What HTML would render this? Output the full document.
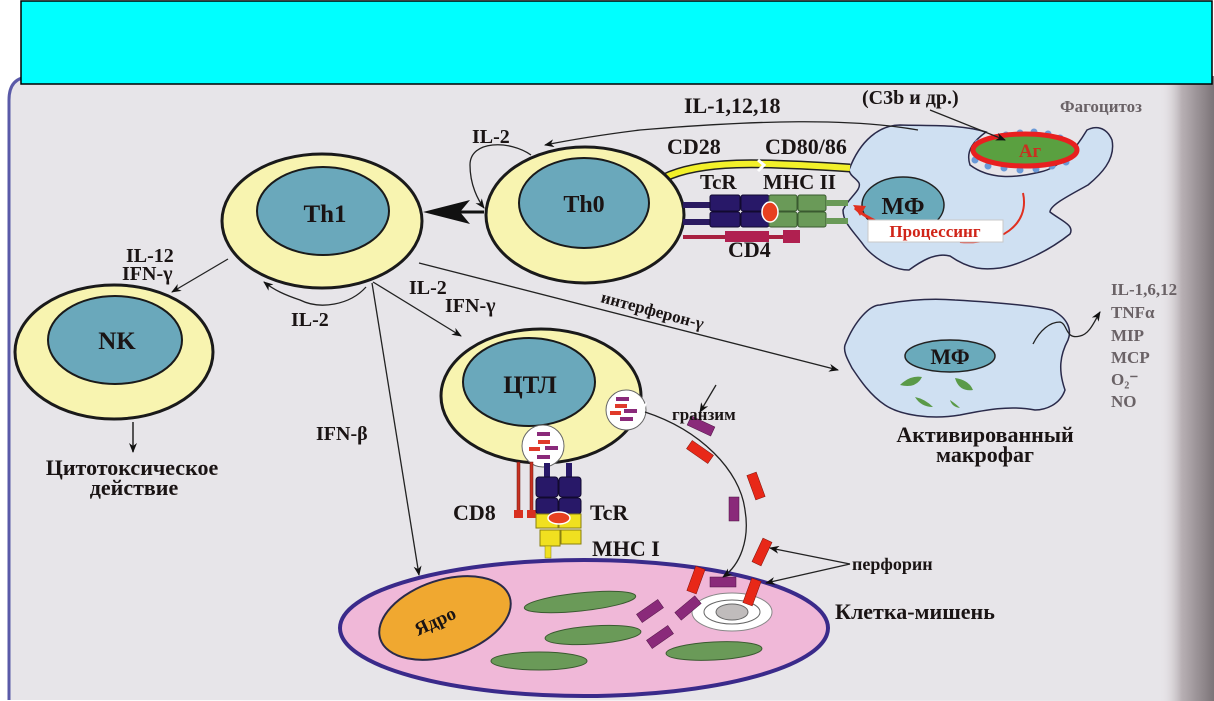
<!DOCTYPE html>
<html><head><meta charset="utf-8"><style>
html,body{margin:0;padding:0;background:#fff;width:1214px;height:701px;overflow:hidden}
svg{display:block}
text{font-family:"Liberation Serif",serif;font-weight:bold;fill:#1a1414}
</style></head><body>
<svg width="1214" height="701" viewBox="0 0 1214 701" xmlns="http://www.w3.org/2000/svg">
<defs>
<linearGradient id="rs" x1="0" x2="1" y1="0" y2="0">
<stop offset="0" stop-color="#e6e3e6" stop-opacity="0"/>
<stop offset="0.4" stop-color="#b8b0b4"/>
<stop offset="1" stop-color="#7c7478"/>
</linearGradient>
<marker id="a" markerWidth="10" markerHeight="8" refX="9" refY="4" orient="auto" markerUnits="userSpaceOnUse"><path d="M0,0 L10,4 L0,8 L3,4 z" fill="#111"/></marker>
</defs>
<path d="M8,700 L8,100 Q8,76 30,76 L1214,76 L1214,701 Z" fill="#e7e5e9"/>
<path d="M9,700 L9,100 Q9,77 30,77" fill="none" stroke="#5a5aa8" stroke-width="3"/>
<rect x="1160" y="76" width="54" height="625" fill="url(#rs)"/>
<rect x="21" y="1" width="1191" height="83" fill="#00ffff" stroke="#000" stroke-width="1.5"/>

<path d="M849,170 C860,140 880,125 900,125 C930,126 960,124 986,132 C975,140 965,150 970,165 C990,180 1015,178 1040,172 C1060,168 1075,150 1087,130 C1095,126 1106,126 1112,140 C1116,160 1100,175 1088,185 C1070,195 1050,205 1050,212 C1060,220 1075,225 1070,234 C1050,250 1020,265 1000,268 C985,270 970,270 950,256 C935,252 920,262 909,270 C890,270 870,255 862,243 C852,230 843,222 843,210 C848,198 862,190 859,183 C856,178 850,176 849,170 Z" fill="#cfe0f2" stroke="#2a2a4a" stroke-width="1.5"/>
<g fill="#6a9ad8">
<circle cx="978" cy="143" r="3.5"/><circle cx="992" cy="139" r="3.5"/><circle cx="1006" cy="135" r="3.5"/><circle cx="1020" cy="133" r="3.5"/><circle cx="1034" cy="132" r="3.5"/><circle cx="1048" cy="134" r="3.5"/><circle cx="1060" cy="138" r="3.5"/><circle cx="1074" cy="148" r="3.5"/><circle cx="975" cy="160" r="3.5"/><circle cx="988" cy="166" r="3.5"/><circle cx="1004" cy="168" r="3.5"/><circle cx="1020" cy="170" r="3.5"/><circle cx="1036" cy="169" r="3.5"/><circle cx="1052" cy="166" r="3.5"/><circle cx="1066" cy="162" r="3.5"/>
</g>
<ellipse cx="1025" cy="150" rx="52" ry="16" fill="#5aa040" stroke="#e82020" stroke-width="5"/>
<text x="1030" y="157" font-size="19" text-anchor="middle" style="fill:#c83020">Аг</text>
<ellipse cx="903" cy="205" rx="41" ry="28" fill="#6aaabb" stroke="#222" stroke-width="1.5"/>
<text x="903" y="214" font-size="24" text-anchor="middle">МФ</text>
<path d="M1023,193 C1030,225 1000,245 960,242" fill="none" stroke="#e03020" stroke-width="2"/>
<path d="M905,235 C885,225 865,218 855,208" fill="none" stroke="#e03020" stroke-width="3"/>
<path d="M853,205 L866,206 L860,216 z" fill="#e03020"/>
<rect x="868" y="220" width="135" height="22" fill="#fff" stroke="#c8c8c8"/>
<text x="935" y="237" font-size="17" text-anchor="middle" style="fill:#d02418">Процессинг</text>

<path d="M664,178 C700,160 760,162 850,168" fill="none" stroke="#222" stroke-width="9"/>
<path d="M664,178 C700,160 760,162 850,168" fill="none" stroke="#f2f02a" stroke-width="6"/>
<path d="M758,160 l6,5 -6,6" fill="none" stroke="#fff" stroke-width="3"/>

<ellipse cx="585" cy="215" rx="99" ry="68" fill="#f8f4b0" stroke="#1a1a1a" stroke-width="3"/>
<ellipse cx="584" cy="203" rx="65" ry="45" fill="#6aa8bb" stroke="#1a1a1a" stroke-width="2"/>
<text x="584" y="212" font-size="24" text-anchor="middle">Th0</text>
<rect x="683" y="202" width="30" height="6" fill="#2a1a60"/>
<rect x="683" y="219" width="30" height="6" fill="#2a1a60"/>
<g fill="#281868" stroke="#120a30" stroke-width="1">
<rect x="710" y="195" width="30" height="16" rx="2"/><rect x="741" y="195" width="28" height="16" rx="2"/>
<rect x="710" y="212" width="30" height="15" rx="2"/><rect x="741" y="212" width="28" height="15" rx="2"/>
</g>
<g fill="#6a9a58" stroke="#3a5a30" stroke-width="1">
<rect x="769" y="195" width="28" height="16" rx="2"/><rect x="798" y="195" width="28" height="16" rx="2"/>
<rect x="769" y="212" width="28" height="15" rx="2"/><rect x="798" y="212" width="28" height="15" rx="2"/>
</g>
<rect x="826" y="200" width="22" height="6" fill="#6a9a58"/><rect x="826" y="218" width="22" height="6" fill="#6a9a58"/>
<ellipse cx="770" cy="212" rx="8" ry="10" fill="#e84020" stroke="#fff" stroke-width="1.5"/>
<rect x="683" y="235" width="45" height="4" fill="#a82040"/>
<rect x="725" y="231" width="44" height="11" fill="#b02050"/>
<rect x="769" y="235" width="14" height="4" fill="#a82040"/>
<rect x="783" y="230" width="17" height="13" fill="#b02050"/>

<ellipse cx="322" cy="221" rx="100" ry="67" fill="#f8f4b0" stroke="#1a1a1a" stroke-width="3"/>
<ellipse cx="323" cy="211" rx="66" ry="44" fill="#6aa8bb" stroke="#1a1a1a" stroke-width="2"/>
<text x="325" y="222" font-size="25" text-anchor="middle">Th1</text>
<line x1="484" y1="212" x2="450" y2="212" stroke="#111" stroke-width="3"/>
<path d="M423,212 L470,200 L460,212 L470,224 z" fill="#111"/>
<path d="M531,155 C510,140 470,140 470,165 C470,185 478,200 484,208" fill="none" stroke="#222" stroke-width="1.3" marker-end="url(#a)"/>
<text x="472" y="143" font-size="20">IL-2</text>

<ellipse cx="114" cy="352" rx="99" ry="67" fill="#f8f4b0" stroke="#1a1a1a" stroke-width="3"/>
<ellipse cx="115" cy="340" rx="67" ry="44" fill="#6aa8bb" stroke="#1a1a1a" stroke-width="2"/>
<text x="117" y="349" font-size="25" text-anchor="middle">NK</text>
<line x1="228" y1="259" x2="172" y2="292" stroke="#222" stroke-width="1.3" marker-end="url(#a)"/>
<text x="126" y="262" font-size="20">IL-12</text>
<text x="122" y="280" font-size="20">IFN-γ</text>
<line x1="133" y1="422" x2="133" y2="452" stroke="#222" stroke-width="1.5" marker-end="url(#a)"/>
<text x="132" y="475" font-size="22" text-anchor="middle">Цитотоксическое</text>
<text x="134" y="495" font-size="22" text-anchor="middle">действие</text>

<path d="M366,287 C350,305 320,310 300,300 C285,295 274,290 264,282" fill="none" stroke="#222" stroke-width="1.3" marker-end="url(#a)"/>
<text x="291" y="326" font-size="20">IL-2</text>

<ellipse cx="541" cy="396" rx="100" ry="67" fill="#f8f4b0" stroke="#1a1a1a" stroke-width="3"/>
<ellipse cx="529" cy="382" rx="66" ry="44" fill="#6aa8bb" stroke="#1a1a1a" stroke-width="2"/>
<text x="530" y="393" font-size="25" text-anchor="middle">ЦТЛ</text>
<line x1="373" y1="282" x2="461" y2="336" stroke="#222" stroke-width="1.3" marker-end="url(#a)"/>
<text x="409" y="294" font-size="20">IL-2</text>
<text x="445" y="312" font-size="20">IFN-γ</text>
<line x1="419" y1="263" x2="838" y2="370" stroke="#222" stroke-width="1.3" marker-end="url(#a)"/>
<text x="0" y="0" font-size="17" transform="translate(600,302) rotate(15)">интерферон-γ</text>
<line x1="372" y1="283" x2="419" y2="575" stroke="#222" stroke-width="1.3" marker-end="url(#a)"/>
<text x="316" y="440" font-size="20">IFN-β</text>

<circle cx="626" cy="410" r="20" fill="#fff" stroke="#666"/>
<rect x="616" y="397" width="13" height="4" fill="#8a2a7a"/><rect x="615" y="404" width="12" height="4" fill="#e03a2a"/><rect x="610" y="411" width="11" height="4" fill="#e03a2a"/><rect x="624" y="409" width="13" height="4" fill="#8a2a7a"/><rect x="620" y="417" width="13" height="4" fill="#8a2a7a"/>
<path d="M637,410 l10,-8 -3,10 z" fill="#fff"/>
<circle cx="543" cy="446" r="21" fill="#fff" stroke="#666"/>
<rect x="537" y="432" width="13" height="4" fill="#8a2a7a"/><rect x="538" y="440" width="12" height="4" fill="#e03a2a"/><rect x="529" y="447" width="11" height="4" fill="#e03a2a"/><rect x="545" y="446" width="13" height="4" fill="#8a2a7a"/><rect x="537" y="455" width="13" height="4" fill="#8a2a7a"/>

<rect x="517" y="462" width="3" height="50" fill="#c83020" stroke="#6a1a10" stroke-width="0.5"/>
<rect x="530" y="462" width="3" height="50" fill="#c83020" stroke="#6a1a10" stroke-width="0.5"/>
<rect x="514" y="510" width="9" height="8" fill="#d83020"/><rect x="527" y="510" width="9" height="8" fill="#d83020"/>
<rect x="544" y="463" width="6" height="14" fill="#281868"/><rect x="566" y="463" width="6" height="14" fill="#281868"/>
<g fill="#281868" stroke="#120a30" stroke-width="1">
<rect x="536" y="477" width="22" height="20" rx="3"/><rect x="559" y="477" width="22" height="20" rx="3"/>
<rect x="536" y="498" width="22" height="16" rx="3"/><rect x="559" y="498" width="22" height="16" rx="3"/>
</g>
<g fill="#f0e020" stroke="#8a8010" stroke-width="1">
<rect x="536" y="514" width="22" height="14"/><rect x="559" y="514" width="22" height="14"/>
<rect x="540" y="530" width="20" height="16"/><rect x="561" y="530" width="20" height="14"/>
</g>
<rect x="545" y="546" width="6" height="12" fill="#f0e020" stroke="#8a8010" stroke-width="0.5"/>
<ellipse cx="559" cy="518" rx="11" ry="6" fill="#e84020" stroke="#fff" stroke-width="1.5"/>
<text x="453" y="520" font-size="22">CD8</text>
<text x="590" y="520" font-size="22">TcR</text>
<text x="592" y="556" font-size="22">MHC I</text>

<ellipse cx="584" cy="628" rx="244" ry="68" fill="#f0b8d8" stroke="#3a2a8a" stroke-width="4"/>
<ellipse cx="445" cy="618" rx="68" ry="38" transform="rotate(-18 445 618)" fill="#f0a830" stroke="#2a2a4a" stroke-width="2"/>
<text x="0" y="0" font-size="19" transform="translate(418,636) rotate(-25)">Ядро</text>
<g fill="#6a9a58" stroke="#3a5a30" stroke-width="1">
<ellipse cx="580" cy="602" rx="56" ry="9" transform="rotate(-6 580 602)"/>
<ellipse cx="593" cy="635" rx="48" ry="9" transform="rotate(-4 593 635)"/>
<ellipse cx="539" cy="661" rx="48" ry="9"/>
<ellipse cx="714" cy="651" rx="48" ry="9" transform="rotate(-3 714 651)"/>
</g>
<ellipse cx="732" cy="612" rx="40" ry="19" fill="#fff" stroke="#888"/>
<ellipse cx="732" cy="612" rx="28" ry="12" fill="#fff" stroke="#666"/>
<ellipse cx="732" cy="612" rx="16" ry="8" fill="#c0bcbc" stroke="#666"/>
<g fill="#8a2a7a" stroke="#4a1040" stroke-width="0.5">
<rect x="-13" y="-5" width="26" height="10" transform="translate(701,426) rotate(25)"/>
<rect x="-5" y="-12" width="10" height="24" transform="translate(734,509)"/>
<rect x="-13" y="-5" width="26" height="10" transform="translate(723,582)"/>
<rect x="-13" y="-5" width="26" height="10" transform="translate(688,608) rotate(-40)"/>
<rect x="-13" y="-5" width="26" height="10" transform="translate(650,611) rotate(-35)"/>
<rect x="-13" y="-5" width="26" height="10" transform="translate(660,637) rotate(-35)"/>
</g>
<g fill="#e82818" stroke="#7a1008" stroke-width="0.5">
<rect x="-13" y="-5" width="26" height="10" transform="translate(700,452) rotate(35)"/>
<rect x="-5" y="-13" width="10" height="26" transform="translate(756,486) rotate(-20)"/>
<rect x="-5" y="-13" width="10" height="26" transform="translate(762,552) rotate(25)"/>
<rect x="-5" y="-13" width="10" height="26" transform="translate(696,580) rotate(20)"/>
<rect x="-5" y="-13" width="10" height="26" transform="translate(752,592) rotate(20)"/>
</g>
<path d="M645,412 C700,430 740,470 745,510 C750,540 740,565 723,577" fill="none" stroke="#222" stroke-width="1.3" marker-end="url(#a)"/>
<text x="672" y="420" font-size="17">гранзим</text>
<line x1="716" y1="385" x2="700" y2="412" stroke="#222" stroke-width="1.3" marker-end="url(#a)"/>
<line x1="850" y1="564" x2="770" y2="548" stroke="#222" stroke-width="1.3" marker-end="url(#a)"/>
<line x1="850" y1="564" x2="766" y2="583" stroke="#222" stroke-width="1.3" marker-end="url(#a)"/>
<text x="852" y="570" font-size="18">перфорин</text>
<text x="835" y="619" font-size="22">Клетка-мишень</text>

<path d="M845,345 C855,320 870,305 880,305 C905,300 930,298 955,300 C990,302 1030,305 1052,310 C1068,318 1072,330 1068,340 C1060,355 1058,370 1065,390 C1060,405 1045,410 1035,410 C1010,405 985,410 960,415 C930,420 900,415 885,405 C870,395 860,380 852,368 C848,360 843,352 845,345 Z" fill="#cfe0f2" stroke="#2a2a4a" stroke-width="1.5"/>
<ellipse cx="950" cy="356" rx="45" ry="16" fill="#6aaabb" stroke="#222" stroke-width="1.5"/>
<text x="950" y="364" font-size="22" text-anchor="middle">МФ</text>
<g fill="#5a9a48"><path d="M900,385 q10,-10 22,-8 q-6,12 -22,8z"/><path d="M955,378 q14,2 18,12 q-14,2 -18,-12z"/><path d="M915,397 q10,2 18,10 q-12,0 -18,-10z"/><path d="M950,400 q6,4 10,8 q-8,-1 -10,-8z"/></g>
<path d="M1033,344 C1040,330 1050,322 1060,322 C1068,324 1065,340 1080,336 C1090,334 1095,320 1100,312" fill="none" stroke="#222" stroke-width="1.3" marker-end="url(#a)"/>
<text x="985" y="442" font-size="22" text-anchor="middle">Активированный</text>
<text x="985" y="462" font-size="22" text-anchor="middle">макрофаг</text>
<g font-size="17">
<text x="1111" y="295" style="fill:#6a6266">IL-1,6,12</text>
<text x="1111" y="318" style="fill:#6a6266">TNFα</text>
<text x="1111" y="341" style="fill:#6a6266">MIP</text>
<text x="1111" y="363" style="fill:#6a6266">MCP</text>
<text x="1111" y="385" style="fill:#6a6266">O₂⁻</text>
<text x="1111" y="407" style="fill:#6a6266">NO</text>
</g>

<path d="M918,130 C850,118 760,120 640,130 C600,135 570,140 545,145" fill="none" stroke="#222" stroke-width="1.3" marker-end="url(#a)"/>
<text x="684" y="113" font-size="22">IL-1,12,18</text>
<text x="862" y="104" font-size="20">(C3b и др.)</text>
<line x1="930" y1="110" x2="1005" y2="140" stroke="#222" stroke-width="1.3" marker-end="url(#a)"/>
<text x="1060" y="112" font-size="17" style="fill:#6a6266">Фагоцитоз</text>
<text x="667" y="154" font-size="22">CD28</text>
<text x="765" y="154" font-size="22">CD80/86</text>
<text x="700" y="189" font-size="21">TcR</text>
<text x="763" y="189" font-size="21">MHC II</text>
<text x="728" y="257" font-size="22">CD4</text>
</svg>
</body></html>
